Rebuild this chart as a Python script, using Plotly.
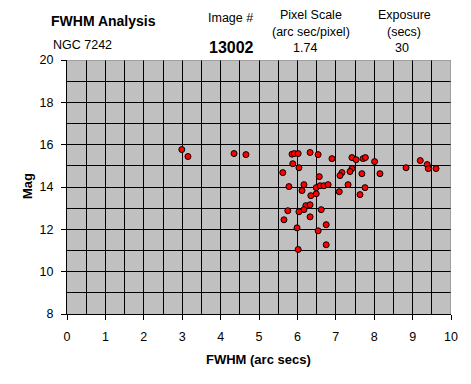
import plotly.graph_objects as go

fwhm = [2.99, 3.15, 4.35, 4.66, 5.86, 5.92, 6.02, 5.88, 6.04, 5.62,
        5.78, 6.17, 6.12, 6.22, 6.33, 6.17, 6.04, 5.75, 5.65, 5.99,
        6.02, 6.33, 6.54, 6.90, 7.42, 7.53, 7.71, 7.77, 8.01, 7.42,
        7.37, 7.16, 7.11, 7.68, 8.15, 8.83, 9.20, 9.38, 9.41, 9.61,
        6.57, 6.49, 6.59, 6.69, 6.80, 7.32, 7.09, 7.76, 7.63, 6.49,
        6.35, 6.62, 6.33, 6.75, 6.54, 6.75]
mag = [15.77, 15.44, 15.58, 15.53, 15.55, 15.58, 15.58, 15.10, 14.91, 14.68,
       14.02, 14.11, 13.83, 13.12, 13.16, 12.93, 12.83, 12.88, 12.45, 12.07,
       11.05, 15.63, 15.53, 15.34, 15.39, 15.29, 15.34, 15.39, 15.20, 14.87,
       14.73, 14.68, 14.54, 14.63, 14.63, 14.91, 15.25, 15.06, 14.87, 14.87,
       14.49, 13.97, 14.06, 14.06, 14.11, 14.11, 13.78, 13.97, 13.64, 13.68,
       13.59, 12.93, 12.59, 12.22, 11.93, 11.27]

FONT = "Arial, Liberation Sans, sans-serif"
OFF = 8  # page body margin
L, R, T, B = 67 - OFF, 20, 60 - OFF, 70
W, H = 471 - OFF, 384 - OFF
PW, PH = W - L - R, H - T - B

def px(x):
    return (x - OFF - L) / PW

def py(y):
    return (H - B - (y - OFF)) / PH

fig = go.Figure()
fig.add_trace(go.Scatter(
    x=fwhm, y=mag, mode="markers",
    marker=dict(color="#FF0000", size=6, symbol="circle",
                line=dict(color="black", width=1)),
    showlegend=False, hoverinfo="skip"))

axis_common = dict(
    showgrid=True, gridcolor="black", gridwidth=1,
    showline=True, linecolor="black", linewidth=1,
    ticks="outside", ticklen=5, tickcolor="black", tickwidth=1,
    zeroline=False, tickfont=dict(family=FONT, size=12.5, color="black"),
)

fig.update_xaxes(range=[0, 10], dtick=1, tick0=0,
                 minor=dict(dtick=0.5, showgrid=True, gridcolor="black", gridwidth=1, ticks=""),
                 ticklabelstandoff=6, **axis_common)
fig.update_yaxes(range=[8, 20], dtick=2, tick0=8,
                 minor=dict(dtick=1, showgrid=True, gridcolor="black", gridwidth=1, ticks=""),
                 ticklabelstandoff=5, **axis_common)

# grey top and right borders
fig.add_shape(type="line", xref="x", yref="y", x0=0, x1=10, y0=20, y1=20,
              line=dict(color="#808080", width=1), layer="above")
fig.add_shape(type="line", xref="x", yref="y", x0=10, x1=10, y0=8, y1=20,
              line=dict(color="#808080", width=1), layer="above")

anns = [
    ("<b>FWHM Analysis</b>", 103, 21, 14),
    ("NGC 7242", 82, 45, 12.5),
    ("Image #", 230, 18, 12.5),
    ("<b>13002</b>", 231, 47, 16),
    ("Pixel Scale", 311, 15, 12.5),
    ("(arc sec/pixel)", 311, 32, 12.5),
    ("1.74", 305, 48, 12.5),
    ("Exposure", 404, 15, 12.5),
    ("(secs)", 404, 32, 12.5),
    ("30", 402, 48, 12.5),
    ("<b>FWHM (arc secs)</b>", 258, 359, 13),
]
for text, x, y, s in anns:
    fig.add_annotation(text=text, x=px(x), y=py(y), xref="paper", yref="paper",
                       xanchor="center", yanchor="middle", showarrow=False,
                       font=dict(family=FONT, size=s, color="black"))
fig.add_annotation(text="<b>Mag</b>", x=px(27), y=py(186), xref="paper", yref="paper",
                   xanchor="center", yanchor="middle", showarrow=False, textangle=-90,
                   font=dict(family=FONT, size=13, color="black"))

fig.update_layout(
    width=W, height=H,
    margin=dict(l=L, r=R, t=T, b=B, autoexpand=False),
    plot_bgcolor="#C0C0C0", paper_bgcolor="white",
    font=dict(family=FONT, color="black"),
)

fig.write_html("out.html")
